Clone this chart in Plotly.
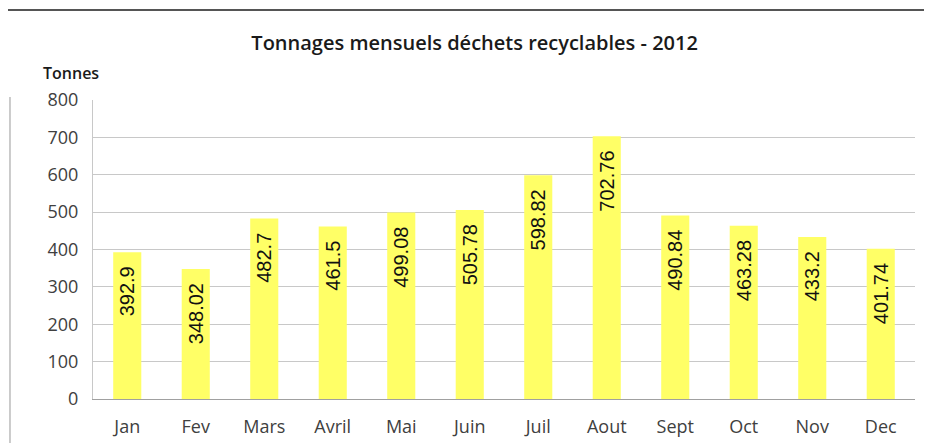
import plotly.graph_objects as go

months = ["Jan", "Fev", "Mars", "Avril", "Mai", "Juin", "Juil", "Aout", "Sept", "Oct", "Nov", "Dec"]
tonnes = [392.9, 348.02, 482.7, 461.5, 499.08, 505.78, 598.82, 702.76, 490.84, 463.28, 433.2, 401.74]
y_ticks = [0, 100, 200, 300, 400, 500, 600, 700, 800]

fig = go.Figure(go.Bar(
    x=months, y=tonnes,
    text=[str(v) + "\u00a0\u00a0" for v in tonnes],
    textposition="inside", insidetextanchor="end", textangle=-90,
    textfont=dict(family="Liberation Sans", size=20, color="#111111"),
    marker=dict(color="#FFFF66", line=dict(width=0)),
    width=0.41,
    cliponaxis=False,
))

fig.update_layout(
    width=924, height=435,
    margin=dict(l=85, r=17, t=92, b=44),
    paper_bgcolor="white", plot_bgcolor="white",
    showlegend=False,
    title=dict(text="Tonnages mensuels déchets recyclables - 2012",
               x=0.505, xanchor="center", y=0.9195, yanchor="middle",
               font=dict(family="Open Sans", size=20, color="#1a1a1a", weight=600)),
    xaxis=dict(showgrid=False, showline=True, linecolor="#a0a0a0", linewidth=1,
               tickfont=dict(family="Open Sans", size=18, color="#404040"),
               ticks="", ticklabelstandoff=11, automargin=False),
    yaxis=dict(range=[0, 800], tickvals=y_ticks, showgrid=True, gridcolor="#c8c8c8",
               gridwidth=1, showline=True, linecolor="#c8c8c8", zeroline=False,
               tickfont=dict(family="Open Sans", size=18, color="#404040"),
               ticks="", ticklabelstandoff=10, automargin=False),
    annotations=[dict(text="Tonnes", xref="paper", yref="paper",
                      x=-0.063, y=1.09, xanchor="left", yanchor="middle", showarrow=False,
                      font=dict(family="Open Sans", size=16, color="#1a1a1a", weight=600))],
    shapes=[
        dict(type="line", xref="paper", yref="paper", x0=-0.11, x1=1.03, y0=1.301, y1=1.301,
             line=dict(color="#555555", width=2)),
        dict(type="line", xref="paper", yref="paper", x0=-0.101, x1=-0.101, y0=-0.15, y1=1.01,
             line=dict(color="#bbbbbb", width=1.5)),
    ],
)

fig.write_html("out.html")
